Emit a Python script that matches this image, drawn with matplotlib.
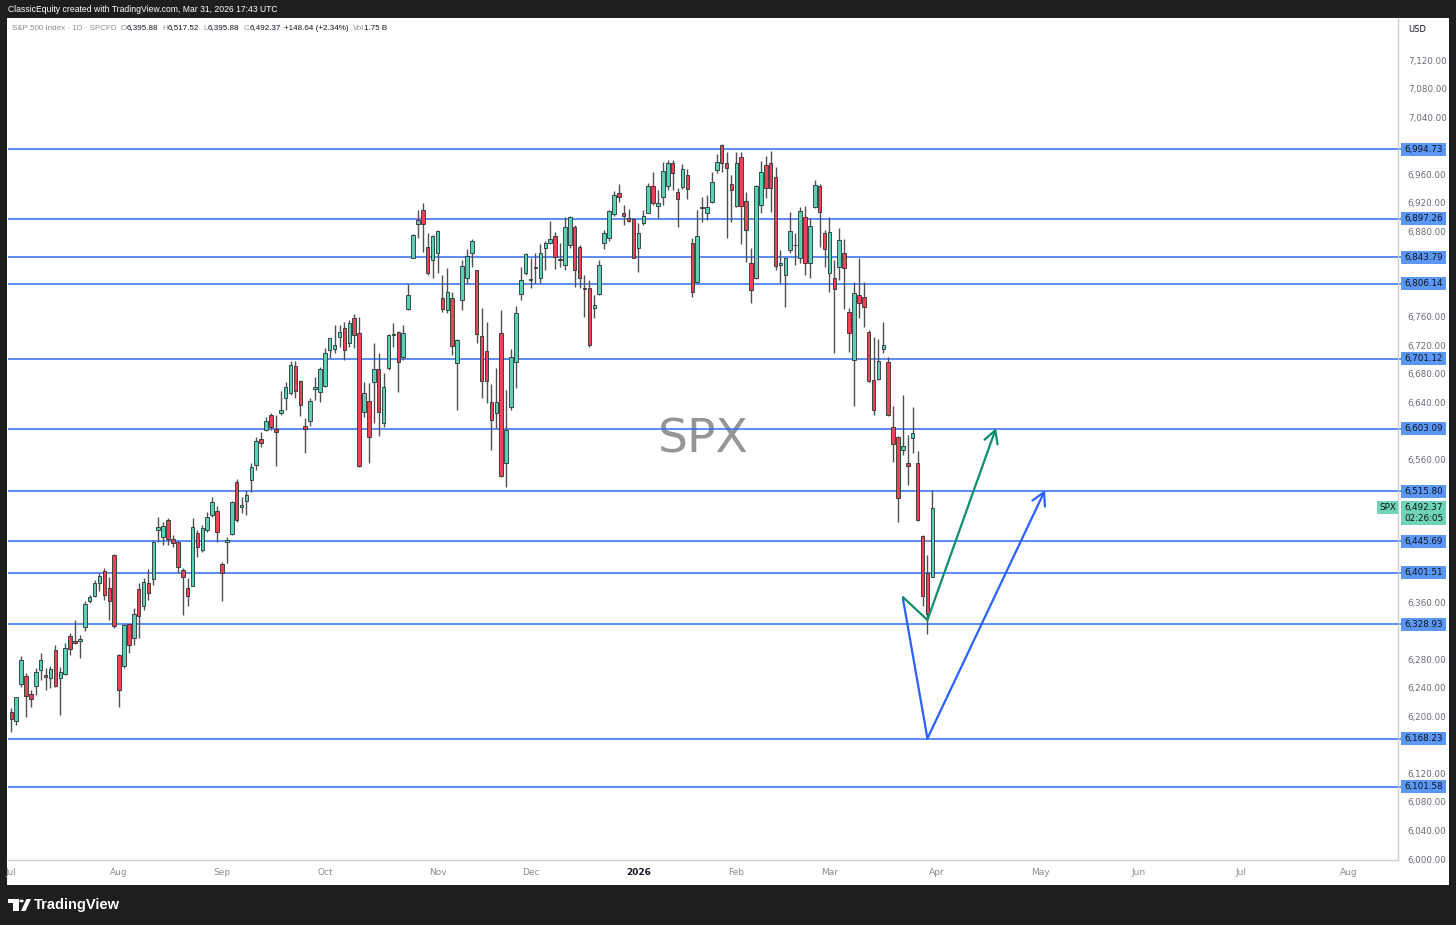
import numpy as np
import pandas as pd
import matplotlib
matplotlib.use("Agg")
import matplotlib.pyplot as plt
from matplotlib.patches import Rectangle, Polygon, Circle
from matplotlib.transforms import blended_transform_factory

plt.rcParams['font.family'] = ['DejaVu Sans']

# trading calendar (NYSE holidays removed)
holidays = pd.to_datetime(['2025-07-04', '2025-09-01', '2025-11-27', '2025-12-25',
                           '2026-01-01', '2026-01-19', '2026-02-16', '2026-04-03',
                           '2026-05-25', '2026-06-19', '2026-07-03'])
cal = pd.bdate_range('2025-07-01', '2026-08-31')
cal = cal[~cal.isin(holidays)]

# SPX daily candles, Jul 1 2025 .. Mar 31 2026
opens = [6206, 6193, 6246, 6257, 6231, 6242, 6265, 6258, 6254, 6293,
         6254, 6260, 6312, 6305, 6306, 6325, 6362, 6369, 6387, 6404,
         6380, 6426, 6286, 6270, 6329, 6310, 6378, 6354, 6387, 6393,
         6461, 6452, 6475, 6448, 6445, 6405, 6380, 6383, 6457, 6433,
         6461, 6482, 6488, 6414, 6444, 6456, 6529, 6494, 6502, 6531,
         6552, 6589, 6601, 6623, 6603, 6625, 6646, 6653, 6691, 6670,
         6607, 6614, 6659, 6655, 6663, 6714, 6715, 6732, 6744, 6723,
         6759, 6738, 6627, 6642, 6669, 6687, 6611, 6688, 6734, 6739,
         6703, 6771, 6843, 6890, 6910, 6858, 6839, 6850, 6787, 6769,
         6786, 6695, 6784, 6814, 6849, 6825, 6733, 6712, 6640, 6625,
         6737, 6555, 6634, 6696, 6792, 6821, 6811, 6828, 6814, 6856,
         6864, 6874, 6841, 6832, 6860, 6886, 6858, 6801, 6801, 6773,
         6792, 6864, 6871, 6904, 6934, 6905, 6899, 6897, 6857, 6891,
         6906, 6944, 6915, 6928, 6943, 6976, 6935, 6942, 6959, 6863,
         6809, 6912, 6906, 6921, 6966, 7001, 6976, 6946, 6915, 6984,
         6922, 6836, 6815, 6917, 6973, 6975, 6956, 6832, 6819, 6854,
         6860, 6842, 6900, 6836, 6914, 6944, 6877, 6822, 6815, 6830,
         6849, 6767, 6699, 6791, 6788, 6739, 6671, 6673, 6715, 6696,
         6605, 6592, 6574, 6555, 6590, 6555, 6453, 6401, 6395.88]
highs = [6211, 6227, 6284, 6261, 6237, 6268, 6289, 6268, 6271, 6300,
         6269, 6303, 6317, 6335, 6314, 6361, 6370, 6391, 6401, 6408,
         6396, 6427, 6287, 6330, 6330, 6352, 6387, 6394, 6406, 6446,
         6479, 6473, 6478, 6454, 6446, 6408, 6394, 6478, 6461, 6468,
         6487, 6507, 6495, 6417, 6452, 6502, 6532, 6508, 6517, 6555,
         6592, 6599, 6620, 6625, 6623, 6656, 6669, 6698, 6698, 6671,
         6618, 6646, 6676, 6690, 6716, 6731, 6749, 6749, 6753, 6756,
         6764, 6760, 6668, 6667, 6723, 6709, 6681, 6736, 6751, 6740,
         6749, 6806, 6876, 6910, 6919, 6878, 6875, 6882, 6819, 6828,
         6795, 6729, 6840, 6855, 6869, 6826, 6773, 6753, 6666, 6688,
         6770, 6658, 6715, 6775, 6830, 6849, 6842, 6850, 6862, 6866,
         6895, 6879, 6863, 6900, 6901, 6889, 6861, 6819, 6812, 6791,
         6839, 6882, 6910, 6937, 6946, 6917, 6911, 6898, 6892, 6910,
         6948, 6963, 6938, 6977, 6980, 6980, 6940, 6974, 6967, 6870,
         6910, 6928, 6931, 6963, 6988, 7002, 6991, 6959, 6991, 6991,
         6935, 6856, 6945, 6979, 6985, 6992, 6970, 6854, 6843, 6907,
         6878, 6914, 6915, 6898, 6952, 6946, 6882, 6900, 6840, 6884,
         6869, 6772, 6809, 6843, 6809, 6741, 6732, 6729, 6753, 6703,
         6635, 6593, 6650, 6594, 6633, 6572, 6454, 6426, 6517.52]
lows = [6178, 6188, 6241, 6199, 6213, 6230, 6251, 6237, 6240, 6241,
        6202, 6258, 6286, 6302, 6282, 6319, 6359, 6367, 6375, 6363,
        6335, 6324, 6213, 6268, 6289, 6300, 6310, 6349, 6363, 6384,
        6445, 6440, 6440, 6438, 6401, 6342, 6354, 6382, 6424, 6431,
        6458, 6480, 6445, 6361, 6415, 6454, 6472, 6485, 6482, 6515,
        6545, 6578, 6600, 6601, 6551, 6623, 6629, 6650, 6646, 6621,
        6569, 6607, 6643, 6641, 6662, 6702, 6709, 6718, 6699, 6718,
        6716, 6550, 6620, 6555, 6611, 6593, 6606, 6686, 6718, 6654,
        6699, 6769, 6842, 6870, 6851, 6819, 6814, 6821, 6767, 6765,
        6707, 6630, 6770, 6806, 6830, 6724, 6646, 6639, 6573, 6604,
        6535, 6521, 6630, 6660, 6784, 6819, 6800, 6807, 6807, 6826,
        6862, 6827, 6830, 6825, 6857, 6802, 6800, 6760, 6718, 6758,
        6790, 6855, 6867, 6901, 6921, 6889, 6893, 6842, 6823, 6889,
        6905, 6917, 6899, 6917, 6938, 6938, 6886, 6939, 6925, 6788,
        6807, 6893, 6896, 6920, 6961, 6963, 6870, 6893, 6914, 6862,
        6837, 6779, 6813, 6905, 6926, 6907, 6826, 6807, 6774, 6849,
        6833, 6835, 6819, 6815, 6912, 6858, 6830, 6795, 6710, 6812,
        6771, 6711, 6635, 6759, 6746, 6669, 6622, 6671, 6710, 6621,
        6557, 6473, 6566, 6524, 6569, 6474, 6355, 6316, 6395.88]
closes = [6196, 6227, 6279, 6228, 6224, 6262, 6279, 6255, 6266, 6242,
          6262, 6296, 6295, 6303, 6308, 6357, 6367, 6387, 6397, 6370,
          6361, 6327, 6237, 6328, 6300, 6343, 6340, 6388, 6373, 6445,
          6465, 6467, 6449, 6443, 6410, 6395, 6369, 6465, 6437, 6464,
          6480, 6500, 6459, 6401, 6447, 6500, 6475, 6496, 6510, 6550,
          6586, 6583, 6614, 6605, 6599, 6630, 6662, 6692, 6656, 6636,
          6603, 6642, 6661, 6687, 6710, 6730, 6721, 6739, 6714, 6752,
          6735, 6551, 6653, 6591, 6687, 6627, 6662, 6735, 6736, 6697,
          6737, 6790, 6875, 6896, 6890, 6821, 6873, 6881, 6771, 6795,
          6719, 6728, 6831, 6845, 6867, 6736, 6670, 6670, 6615, 6640,
          6537, 6601, 6703, 6765, 6812, 6848, 6813, 6829, 6849, 6864,
          6869, 6844, 6840, 6886, 6900, 6826, 6815, 6799, 6720, 6777,
          6833, 6877, 6908, 6931, 6928, 6902, 6895, 6843, 6877, 6901,
          6944, 6920, 6920, 6964, 6976, 6962, 6925, 6967, 6939, 6795,
          6874, 6914, 6914, 6949, 6977, 6976, 6968, 6938, 6975, 6916,
          6882, 6798, 6943, 6963, 6940, 6940, 6831, 6836, 6842, 6880,
          6861, 6908, 6836, 6888, 6945, 6907, 6855, 6879, 6799, 6868,
          6829, 6738, 6794, 6780, 6774, 6670, 6630, 6698, 6721, 6622,
          6582, 6506, 6579, 6551, 6597, 6475, 6368, 6343.73, 6492.37]

# horizontal levels drawn on the chart
levels = [6994.73, 6897.26, 6843.79, 6806.14, 6701.12, 6603.09,
          6515.80, 6445.69, 6401.51, 6328.93, 6168.23, 6101.58]

# price-scale labels that are visible
price_ticks = [7120, 7080, 7040, 6960, 6920, 6880, 6760, 6720, 6680, 6640,
               6560, 6360, 6280, 6240, 6200, 6120, 6080, 6040, 6000]

# projection drawings
green_dates = ['2026-03-23', '2026-03-30', '2026-04-20']
green_prices = [6367, 6335, 6604]
blue_dates = ['2026-03-23', '2026-03-30', '2026-05-04']
blue_prices = [6365, 6169, 6517]

last_price = 6492.37

UP = '#5ad2b2'
DOWN = '#ef4352'
LEVEL = '#2f6ef2'
LABEL_BG = '#5a97f7'
W, H = 1456, 925


def fx(px):
    return px / W


def fy(py):
    return 1 - py / H


pos = {d: i for i, d in enumerate(cal)}
dates = cal[:len(opens)]
x = np.array([pos[d] for d in dates])
o, h, l, c = map(np.array, (opens, highs, lows, closes))

fig = plt.figure(figsize=(W / 100, H / 100), dpi=100)
fig.patch.set_facecolor('#1e1e1e')
fig.patches.append(Rectangle((fx(7), fy(885)), fx(1449) - fx(7), fy(18) - fy(885),
                             transform=fig.transFigure, facecolor='white',
                             edgecolor='none', zorder=-10))

ax = fig.add_axes([fx(8), fy(860), fx(1398) - fx(8), fy(18) - fy(860)])
ax.set_facecolor('white')
ax.set_xlim(-0.67, 283.05)
ax.set_ylim(5998.6, 7178.9)

# levels
for lv in levels:
    ax.axhline(lv, color=LEVEL, lw=1.1, zorder=1)

# candles
up = c >= o
ax.vlines(x, l, h, color='#505050', lw=1, zorder=2)
body_lo = np.minimum(o, c)
body_h = np.maximum(np.abs(c - o), 1.2)
ax.bar(x[up], body_h[up], bottom=body_lo[up], width=0.72, color=UP,
       edgecolor='#263238', linewidth=0.6, zorder=3)
ax.bar(x[~up], body_h[~up], bottom=body_lo[~up], width=0.72, color=DOWN,
       edgecolor='#263238', linewidth=0.6, zorder=3)

# projection arrows
for ds, ps, col in [(blue_dates, blue_prices, '#2962ff'), (green_dates, green_prices, '#0d8f6f')]:
    px_ = [pos[pd.Timestamp(d)] for d in ds]
    ax.plot(px_[:2], ps[:2], color=col, lw=1.6, zorder=4, solid_capstyle='round')
    ax.annotate('', xy=(px_[2], ps[2]), xytext=(px_[1], ps[1]),
                arrowprops=dict(arrowstyle='->,head_length=0.9,head_width=0.5',
                                color=col, lw=1.6, shrinkA=0, shrinkB=0), zorder=4)

# watermark
ax.text(0.5, 0.499, 'SPX', transform=ax.transAxes, ha='center', va='center',
        fontsize=34, color='#959595', zorder=0.5)

# x axis
firsts = pd.Series(cal, index=cal).groupby(cal.to_period('M')).first()
xt = [pos[d] for d in firsts]
xl = ['2026' if d.month == 1 else d.strftime('%b') for d in firsts]
ax.set_xticks(xt)
ax.set_xticklabels(xl)
ax.tick_params(axis='x', length=0, pad=6, labelsize=6.5, labelcolor='#8a8d96')
for t in ax.get_xticklabels():
    if t.get_text() == '2026':
        t.set_fontweight('bold')
        t.set_color('#131722')

# y axis on the right
ax.yaxis.tick_right()
ax.set_yticks(price_ticks)
ax.set_yticklabels([f'{v:,.2f}' for v in price_ticks])
ax.tick_params(axis='y', length=0, pad=7, labelsize=6.3, labelcolor='#6a6d78')
for s in ['top', 'left']:
    ax.spines[s].set_visible(False)
for s in ['right', 'bottom']:
    ax.spines[s].set_color('#c9ccd3')
    ax.spines[s].set_linewidth(1)

# price-scale labels
unit = (7178.9 - 5998.6) / 842.0
tr = blended_transform_factory(ax.transAxes, ax.transData)
sx0 = (1401 - 8) / 1390.0
sx1 = (1446 - 8) / 1390.0
for lv in levels:
    ax.add_patch(Rectangle((sx0, lv - 6.5 * unit), sx1 - sx0, 13 * unit, transform=tr,
                           facecolor=LABEL_BG, edgecolor='none', clip_on=False, zorder=5))
    ax.plot([1.0, sx0], [lv, lv], transform=tr, color=LEVEL, lw=1.1, clip_on=False)
    ax.text((sx0 + sx1) / 2, lv, f'{lv:,.2f}', transform=tr, ha='center', va='center',
            fontsize=6.3, color='#10131a', clip_on=False, zorder=6)

# last price label
ax.add_patch(Rectangle((sx0, last_price - 17.5 * unit), sx1 - sx0, 24 * unit, transform=tr,
                       facecolor='#6fd3b6', edgecolor='none', clip_on=False, zorder=5))
ax.text((sx0 + sx1) / 2, last_price, f'{last_price:,.2f}', transform=tr, ha='center',
        va='center', fontsize=6.3, color='#10131a', clip_on=False, zorder=6)
ax.text((sx0 + sx1) / 2, last_price - 11 * unit, '02:26:05', transform=tr, ha='center',
        va='center', fontsize=6.3, color='#10131a', clip_on=False, zorder=6)
bx0 = (1377 - 8) / 1390.0
ax.add_patch(Rectangle((bx0, last_price - 6.5 * unit), 1.0 - bx0, 13 * unit, transform=tr,
                       facecolor='#6fd3b6', edgecolor='none', clip_on=False, zorder=5))
ax.text((bx0 + 1.0) / 2, last_price, 'SPX', transform=tr, ha='center', va='center',
        fontsize=6.3, color='#10131a', clip_on=False, zorder=6)

fig.text(fx(1408), fy(29), 'USD', fontsize=6, color='#10131a', va='center')

# header texts
fig.text(fx(8), fy(9), 'ClassicEquity created with TradingView.com, Mar 31, 2026 17:43 UTC',
         fontsize=6.2, color='white', va='center', family='Liberation Sans')
legend = [('S&P 500 Index · 1D · SPCFD', '#8a8d96', 4),
          ('O', '#8a8d96', 0), ('6,395.88', '#131722', 4),
          ('H', '#8a8d96', 0), ('6,517.52', '#131722', 4),
          ('L', '#8a8d96', 0), ('6,395.88', '#131722', 4),
          ('C', '#8a8d96', 0), ('6,492.37', '#131722', 4),
          ('+148.64 (+2.34%)', '#131722', 4),
          ('Vol', '#8a8d96', 0), ('1.75 B', '#131722', 0)]
renderer = fig.canvas.get_renderer()
cur = 12
for s, col, gap in legend:
    t = fig.text(fx(cur), fy(28), s, fontsize=5.8, color=col, va='center',
                 family='Liberation Sans')
    cur += t.get_window_extent(renderer).width + gap

# TradingView footer logo
logo = '#ffffff'
fig.patches.append(Rectangle((fx(8), fy(903)), 11 / W, 4 / H, transform=fig.transFigure,
                             facecolor=logo, edgecolor='none'))
fig.patches.append(Rectangle((fx(13), fy(911)), 6 / W, 12 / H, transform=fig.transFigure,
                             facecolor=logo, edgecolor='none'))
fig.patches.append(Circle((fx(21.5), fy(901)), 2.2 / W, transform=fig.transFigure,
                          facecolor=logo, edgecolor='none'))
fig.patches.append(Polygon([(fx(21), fy(911)), (fx(25.5), fy(911)), (fx(31), fy(899)),
                            (fx(26.5), fy(899))], closed=True, transform=fig.transFigure,
                           facecolor=logo, edgecolor='none'))
fig.text(fx(34), fy(905), 'TradingView', fontsize=10.5, color='white', va='center',
         fontweight='bold', family='Liberation Sans')

fig.savefig('out.png', dpi=100, facecolor=fig.get_facecolor())
